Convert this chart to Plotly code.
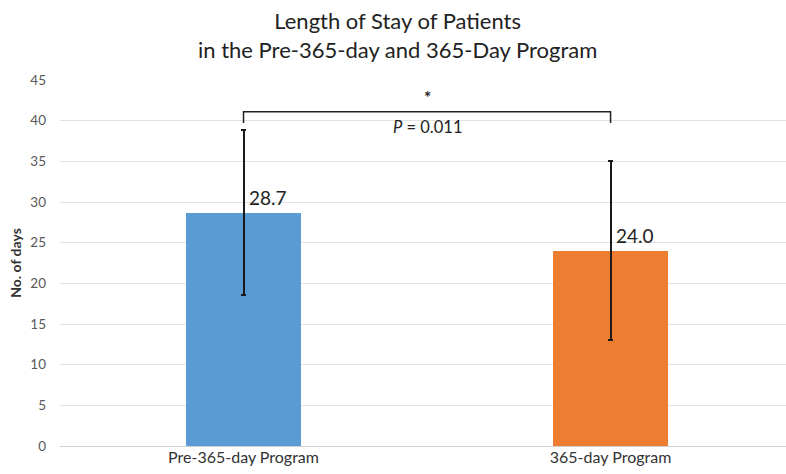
import plotly.graph_objects as go

categories = ["Pre-365-day Program", "365-day Program"]
mean_days = [28.7, 24.0]
sd_days = [10.1, 11.0]
colors = ["#5B9BD5", "#ED7D31"]
p_value = 0.011
y_ticks = [0, 5, 10, 15, 20, 25, 30, 35, 40, 45]

FONT = "Lato, 'Open Sans', sans-serif"

fig = go.Figure()
fig.add_trace(go.Bar(
    x=[0, 1], y=mean_days,
    marker=dict(color=colors, line=dict(width=0)),
    width=0.313,
    error_y=dict(type="data", array=sd_days, visible=True,
                 color="#1a1a1a", thickness=2, width=2.5),
    hoverinfo="skip",
))

# data labels
for i, (m, s) in enumerate(zip(mean_days, sd_days)):
    fig.add_annotation(x=i, y=m, text=f"{m:.1f}", showarrow=False,
                       xanchor="left", yanchor="bottom", xshift=3, yshift=2,
                       font=dict(family=FONT, size=19, color="#222222"))

# significance bracket
top = max(m + s for m, s in zip(mean_days, sd_days))
by = top + 2.3
fig.add_shape(type="path",
              path=f"M 0,{by-1.4} L 0,{by} L 1,{by} L 1,{by-1.4}",
              line=dict(color="#222222", width=1.5))
fig.add_annotation(x=0.5, y=by, text="<b>*</b>", showarrow=False, yanchor="bottom",
                   yshift=2, font=dict(family=FONT, size=17, color="#222222"))
fig.add_annotation(x=0.5, y=by, text=f"<i>P</i> = {p_value:.3f}", showarrow=False,
                   yanchor="top", yshift=-3,
                   font=dict(family=FONT, size=16.5, color="#222222"))

fig.add_annotation(xref="paper", yref="paper", x=0.465,
                   y=1, yshift=45, text="Length of Stay of Patients<br>in the Pre-365-day and 365-Day Program",
                   showarrow=False, xanchor="center", yanchor="middle",
                   font=dict(family=FONT, size=22, color="#222222"))

fig.update_layout(
    width=786, height=474,
    margin=dict(l=60, r=0, t=80, b=28),
    paper_bgcolor="white", plot_bgcolor="white",
    showlegend=False,
    bargap=0,
    xaxis=dict(tickmode="array", tickvals=[0, 1], ticktext=categories,
               range=[-0.5, 1.478], showgrid=False, zeroline=False,
               showline=False, ticks="", automargin=False,
               tickfont=dict(family=FONT, size=16, color="#333333")),
    yaxis=dict(range=[0, 45], tickvals=y_ticks, showgrid=True,
               gridcolor="#E3E3E3", gridwidth=1, zeroline=True,
               zerolinecolor="#D0D0D0", zerolinewidth=1, showline=False,
               ticks="", ticklabelstandoff=13, automargin=False,
               tickfont=dict(family=FONT, size=13.5, color="#595959"),
               title=dict(text="<b>No. of days</b>", standoff=5,
                          font=dict(family=FONT, size=14, color="#333333"))),
)

fig.write_html("out.html", post_script="document.body.style.margin='0';",
               config={"displayModeBar": False})
